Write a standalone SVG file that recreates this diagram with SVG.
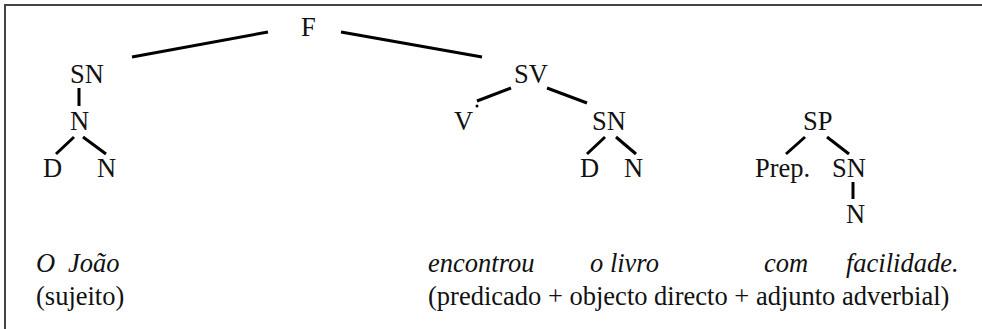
<svg xmlns="http://www.w3.org/2000/svg" width="982" height="329" viewBox="0 0 982 329">
<style>
.t{font-family:"Liberation Serif","Times New Roman",serif;font-size:26.5px;fill:#111}
.i{font-style:italic}
.e line{stroke:#000;stroke-width:3;stroke-linecap:butt}
</style>
<rect x="0" y="0" width="982" height="329" fill="#fff"/>
<rect x="5" y="5" width="1000" height="400" fill="none" stroke="#444" stroke-width="2"/>
<g id="edges" class="e">
<line x1="132" y1="57" x2="268" y2="32"/>
<line x1="341" y1="32" x2="482" y2="57"/>
<line x1="79" y1="88" x2="79" y2="106"/>
<line x1="74" y1="137" x2="56" y2="154"/>
<line x1="83" y1="137" x2="106" y2="154"/>
<line x1="511" y1="88" x2="477" y2="101"/>
<circle cx="477" cy="106" r="1.5" fill="#000"/>
<line x1="547" y1="88" x2="587" y2="103"/>
<line x1="605" y1="137" x2="587" y2="154"/>
<line x1="616" y1="137" x2="636" y2="154"/>
<line x1="805" y1="137" x2="786" y2="154"/>
<line x1="827" y1="137" x2="849" y2="154"/>
<line x1="853" y1="182" x2="853" y2="199"/>
</g>
<g id="F"><text class="t" x="301" y="36">F</text></g>
<g id="SN1"><text class="t" x="70" y="83">SN</text></g>
<g id="N1"><text class="t" x="70" y="130">N</text></g>
<g id="D1"><text class="t" x="43" y="177">D</text></g>
<g id="N2"><text class="t" x="97" y="177">N</text></g>
<g id="SV"><text class="t" x="514" y="83">SV</text></g>
<g id="V"><text class="t" x="454" y="130">V</text></g>
<g id="SN2"><text class="t" x="592" y="130">SN</text></g>
<g id="D2"><text class="t" x="580" y="177">D</text></g>
<g id="N3"><text class="t" x="624" y="177">N</text></g>
<g id="SP"><text class="t" x="803" y="130">SP</text></g>
<g id="Prep"><text class="t" x="755" y="177">Prep.</text></g>
<g id="SN3"><text class="t" x="832" y="177">SN</text></g>
<g id="N4"><text class="t" x="846" y="223">N</text></g>
<g id="labels">
<text class="t i" y="272"><tspan x="36">O</tspan><tspan x="68">João</tspan></text>
<text class="t" x="36" y="305">(sujeito)</text>
<text class="t i" x="428" y="272">encontrou</text>
<text class="t i" x="590" y="272">o livro</text>
<text class="t i" x="764" y="272">com</text>
<text class="t i" x="846" y="272">facilidade.</text>
<text class="t" x="428" y="305">(predicado + objecto directo + adjunto adverbial)</text>
</g>
</svg>
